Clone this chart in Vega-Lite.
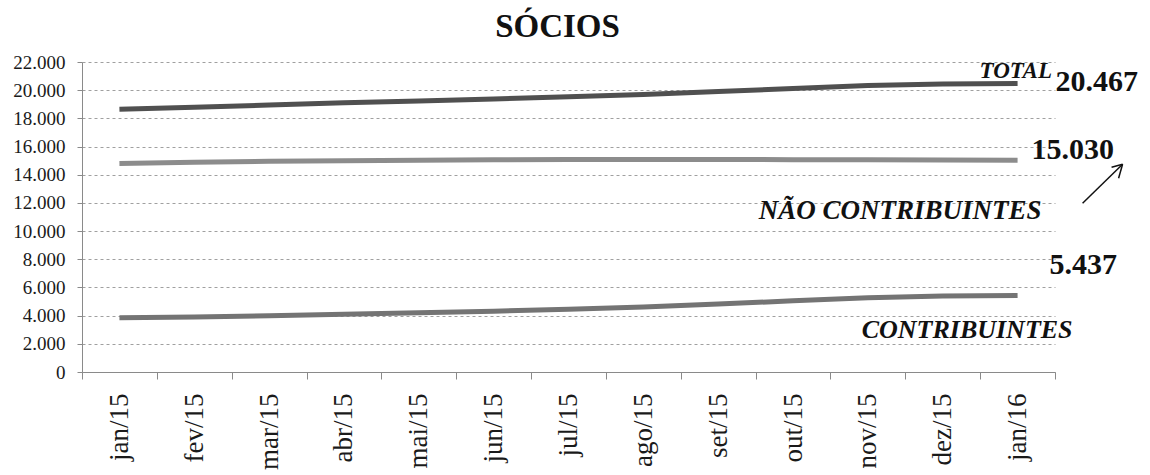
{
  "$schema": "https://vega.github.io/schema/vega-lite/v6.json",
  "width": 973,
  "height": 310,
  "autosize": {"type": "none"},
  "padding": {"left": 82, "top": 62, "right": 95, "bottom": 103},
  "background": "white",
  "title": {"text": "SÓCIOS", "font": "Liberation Serif", "fontSize": 33, "fontWeight": "bold", "color": "#111111", "anchor": "middle", "dx": -11, "baseline": "alphabetic", "offset": 25, "dy": 42},
  "data": {"values": [
    {"month": "jan/15", "series": "TOTAL", "value": 18650},
    {"month": "fev/15", "series": "TOTAL", "value": 18780},
    {"month": "mar/15", "series": "TOTAL", "value": 18950},
    {"month": "abr/15", "series": "TOTAL", "value": 19100},
    {"month": "mai/15", "series": "TOTAL", "value": 19230},
    {"month": "jun/15", "series": "TOTAL", "value": 19380},
    {"month": "jul/15", "series": "TOTAL", "value": 19530},
    {"month": "ago/15", "series": "TOTAL", "value": 19690},
    {"month": "set/15", "series": "TOTAL", "value": 19900},
    {"month": "out/15", "series": "TOTAL", "value": 20120},
    {"month": "nov/15", "series": "TOTAL", "value": 20330},
    {"month": "dez/15", "series": "TOTAL", "value": 20430},
    {"month": "jan/16", "series": "TOTAL", "value": 20467},
    {"month": "jan/15", "series": "NÃO CONTRIBUINTES", "value": 14800},
    {"month": "fev/15", "series": "NÃO CONTRIBUINTES", "value": 14880},
    {"month": "mar/15", "series": "NÃO CONTRIBUINTES", "value": 14950},
    {"month": "abr/15", "series": "NÃO CONTRIBUINTES", "value": 15000},
    {"month": "mai/15", "series": "NÃO CONTRIBUINTES", "value": 15030},
    {"month": "jun/15", "series": "NÃO CONTRIBUINTES", "value": 15060},
    {"month": "jul/15", "series": "NÃO CONTRIBUINTES", "value": 15080},
    {"month": "ago/15", "series": "NÃO CONTRIBUINTES", "value": 15080},
    {"month": "set/15", "series": "NÃO CONTRIBUINTES", "value": 15080},
    {"month": "out/15", "series": "NÃO CONTRIBUINTES", "value": 15070},
    {"month": "nov/15", "series": "NÃO CONTRIBUINTES", "value": 15060},
    {"month": "dez/15", "series": "NÃO CONTRIBUINTES", "value": 15040},
    {"month": "jan/16", "series": "NÃO CONTRIBUINTES", "value": 15030},
    {"month": "jan/15", "series": "CONTRIBUINTES", "value": 3850},
    {"month": "fev/15", "series": "CONTRIBUINTES", "value": 3900},
    {"month": "mar/15", "series": "CONTRIBUINTES", "value": 4000},
    {"month": "abr/15", "series": "CONTRIBUINTES", "value": 4100},
    {"month": "mai/15", "series": "CONTRIBUINTES", "value": 4200},
    {"month": "jun/15", "series": "CONTRIBUINTES", "value": 4320},
    {"month": "jul/15", "series": "CONTRIBUINTES", "value": 4450},
    {"month": "ago/15", "series": "CONTRIBUINTES", "value": 4610},
    {"month": "set/15", "series": "CONTRIBUINTES", "value": 4820},
    {"month": "out/15", "series": "CONTRIBUINTES", "value": 5050},
    {"month": "nov/15", "series": "CONTRIBUINTES", "value": 5270},
    {"month": "dez/15", "series": "CONTRIBUINTES", "value": 5390},
    {"month": "jan/16", "series": "CONTRIBUINTES", "value": 5437}
  ]},
  "encoding": {
    "x": {
      "field": "month", "type": "nominal",
      "sort": ["jan/15", "fev/15", "mar/15", "abr/15", "mai/15", "jun/15", "jul/15", "ago/15", "set/15", "out/15", "nov/15", "dez/15", "jan/16"],
      "scale": {"type": "band", "paddingInner": 0, "paddingOuter": 0},
      "axis": {"title": null, "labelAngle": -90, "labelFont": "Liberation Serif", "labelFontSize": 27, "labelColor": "#1a1a1a", "tickBand": "extent", "tickSize": 7, "tickColor": "#8a8a8a", "domainColor": "#8a8a8a", "labelPadding": 14, "grid": false, "labelAlign": "right", "labelBaseline": "middle"}
    },
    "y": {
      "field": "value", "type": "quantitative",
      "scale": {"domain": [0, 22000], "nice": false},
      "axis": {"title": null, "values": [0, 2000, 4000, 6000, 8000, 10000, 12000, 14000, 16000, 18000, 20000, 22000], "labelExpr": "replace(format(datum.value, ','), ',', '.')", "labelFont": "Liberation Serif", "labelFontSize": 19, "labelColor": "#1a1a1a", "tickSize": 5, "tickColor": "#8a8a8a", "domainColor": "#8a8a8a", "labelPadding": 12, "grid": true, "gridDash": [3, 3], "gridColor": "#a0a0a0", "gridWidth": 1}
    }
  },
  "layer": [
    {
      "mark": {"type": "line", "strokeWidth": 5},
      "encoding": {
        "color": {"field": "series", "type": "nominal", "scale": {"domain": ["TOTAL", "NÃO CONTRIBUINTES", "CONTRIBUINTES"], "range": ["#505050", "#8c8c8c", "#747474"]}, "legend": null}
      }
    },
    {
      "transform": [{"filter": "datum.month == 'jan/16' && datum.series == 'TOTAL'"}, {"calculate": "replace(format(datum.value, ','), ',', '.')", "as": "label"}],
      "mark": {"type": "text", "font": "Liberation Serif", "fontSize": 30, "fontWeight": "bold", "color": "#111111", "align": "left", "baseline": "alphabetic", "dx": 38, "dy": 7},
      "encoding": {"text": {"field": "label"}}
    },
    {
      "transform": [{"filter": "datum.month == 'jan/16' && datum.series == 'NÃO CONTRIBUINTES'"}, {"calculate": "replace(format(datum.value, ','), ',', '.')", "as": "label"}],
      "mark": {"type": "text", "font": "Liberation Serif", "fontSize": 30, "fontWeight": "bold", "color": "#111111", "align": "left", "baseline": "alphabetic", "dx": 14, "dy": -1},
      "encoding": {"text": {"field": "label"}}
    },
    {
      "transform": [{"filter": "datum.month == 'jan/16' && datum.series == 'CONTRIBUINTES'"}, {"calculate": "replace(format(datum.value, ','), ',', '.')", "as": "label"}],
      "mark": {"type": "text", "font": "Liberation Serif", "fontSize": 30, "fontWeight": "bold", "color": "#111111", "align": "left", "baseline": "alphabetic", "dx": 32, "dy": -21},
      "encoding": {"text": {"field": "label"}}
    },
    {
      "transform": [{"filter": "datum.month == 'jan/16' && datum.series == 'TOTAL'"}],
      "mark": {"type": "text", "font": "Liberation Serif", "fontSize": 23, "fontWeight": "bold", "fontStyle": "italic", "color": "#111111", "align": "left", "baseline": "alphabetic", "dx": -38, "dy": -6},
      "encoding": {"text": {"field": "series"}}
    },
    {
      "transform": [{"filter": "datum.month == 'jan/16' && datum.series == 'NÃO CONTRIBUINTES'"}],
      "mark": {"type": "text", "font": "Liberation Serif", "fontSize": 27, "fontWeight": "bold", "fontStyle": "italic", "color": "#111111", "align": "right", "baseline": "alphabetic", "dx": 24, "dy": 59},
      "encoding": {"text": {"field": "series"}}
    },
    {
      "transform": [{"filter": "datum.month == 'jan/16' && datum.series == 'CONTRIBUINTES'"}],
      "mark": {"type": "text", "font": "Liberation Serif", "fontSize": 26, "fontWeight": "bold", "fontStyle": "italic", "color": "#111111", "align": "right", "baseline": "alphabetic", "dx": 55, "dy": 43},
      "encoding": {"text": {"field": "series"}}
    },
    {
      "transform": [{"filter": "datum.month == 'jan/16' && datum.series == 'NÃO CONTRIBUINTES'"}],
      "mark": {"type": "rule", "color": "#111111", "strokeWidth": 1.5, "xOffset": 65, "x2Offset": 105, "yOffset": 43, "y2Offset": 4},
      "encoding": {"x": {"field": "month", "type": "nominal", "sort": ["jan/15", "fev/15", "mar/15", "abr/15", "mai/15", "jun/15", "jul/15", "ago/15", "set/15", "out/15", "nov/15", "dez/15", "jan/16"], "bandPosition": 0.5}, "x2": {"field": "month", "bandPosition": 0.5}, "y2": {"field": "value"}}
    },
    {
      "transform": [{"filter": "datum.month == 'jan/16' && datum.series == 'NÃO CONTRIBUINTES'"}],
      "mark": {"type": "rule", "color": "#111111", "strokeWidth": 1.5, "xOffset": 94, "x2Offset": 105, "yOffset": 7, "y2Offset": 4},
      "encoding": {"x": {"field": "month", "type": "nominal", "sort": ["jan/15", "fev/15", "mar/15", "abr/15", "mai/15", "jun/15", "jul/15", "ago/15", "set/15", "out/15", "nov/15", "dez/15", "jan/16"], "bandPosition": 0.5}, "x2": {"field": "month", "bandPosition": 0.5}, "y2": {"field": "value"}}
    },
    {
      "transform": [{"filter": "datum.month == 'jan/16' && datum.series == 'NÃO CONTRIBUINTES'"}],
      "mark": {"type": "rule", "color": "#111111", "strokeWidth": 1.5, "xOffset": 101, "x2Offset": 105, "yOffset": 18, "y2Offset": 4},
      "encoding": {"x": {"field": "month", "type": "nominal", "sort": ["jan/15", "fev/15", "mar/15", "abr/15", "mai/15", "jun/15", "jul/15", "ago/15", "set/15", "out/15", "nov/15", "dez/15", "jan/16"], "bandPosition": 0.5}, "x2": {"field": "month", "bandPosition": 0.5}, "y2": {"field": "value"}}
    }
  ],
  "config": {"view": {"stroke": null}}
}
